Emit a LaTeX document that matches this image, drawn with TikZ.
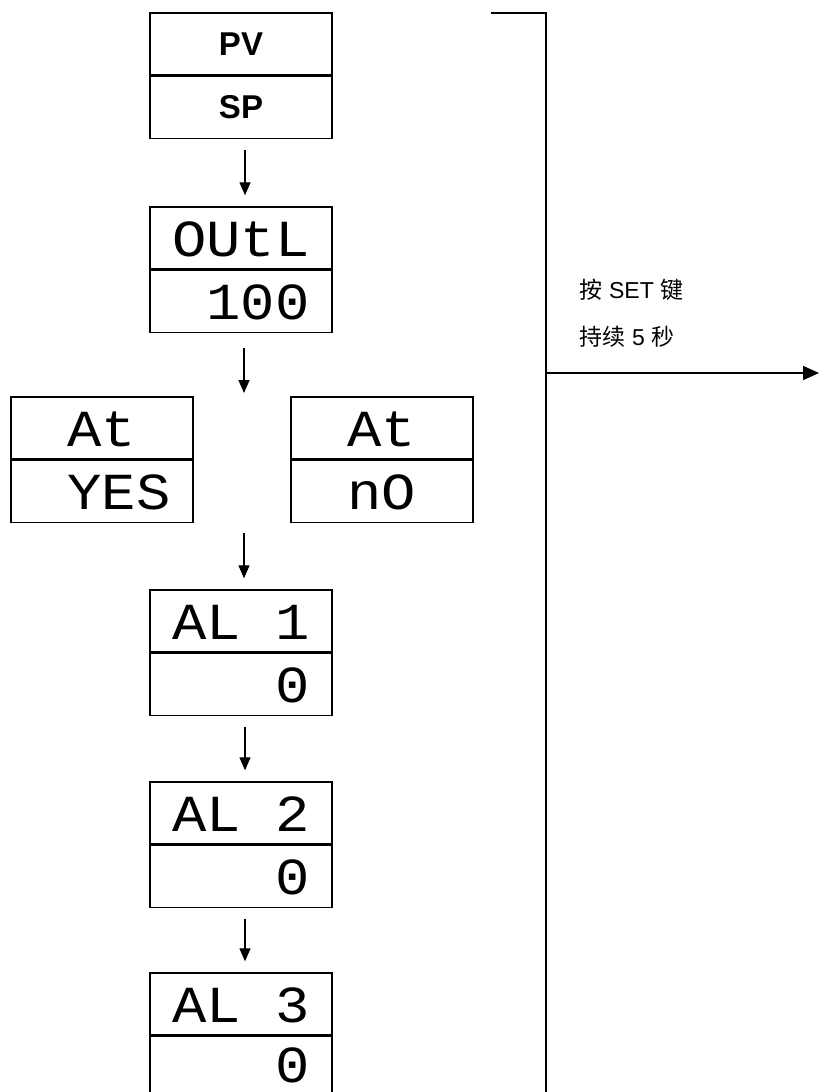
\documentclass[tikz,border=0pt]{standalone}
\usepackage{fontspec}
\setmainfont{Liberation Sans}
\newfontfamily\segfont[FakeStretch=1.1]{Liberation Mono}
\newfontfamily\cjkfont{Noto Sans CJK SC}
\usetikzlibrary{arrows.meta,positioning}
\newcommand\segsp{\phantom{0}}

\begin{document}
\begin{tikzpicture}[x=1pt,y=-1pt,line width=1.4pt,
    >={Triangle[length=13pt,width=11pt]},
    cell/.style={draw,minimum width=182pt,minimum height=62pt,inner sep=0pt,text depth=0pt},
    seg/.style={cell,font=\segfont\fontsize{52}{56}\selectfont,text height=36pt},
    pvsp/.style={cell,font=\bfseries\fontsize{33}{38}\selectfont,text height=23pt},
    flow/.style={->,line width=1.2pt,shorten <=11pt,shorten >=11pt},
    note/.style={anchor=base west,inner sep=0pt,font=\fontsize{23}{28}\selectfont}]
  \useasboundingbox (0,0) rectangle (819,1092);
  \node[pvsp] (pvT) at (241,44) {PV};
  \node[pvsp,below=0pt of pvT] (pvB) {SP};
  \node[seg] (outlT) at (241,238) {OUtL};
  \node[seg,below=0pt of outlT] (outlB) {\segsp100};
  \node[seg] (yesT) at (102,428) {\segsp At\segsp};
  \node[seg,below=0pt of yesT] (yesB) {\segsp YES};
  \node[seg] (noT) at (382,428) {\segsp At\segsp};
  \node[seg,below=0pt of noT] (noB) {\segsp nO\segsp};
  \coordinate (atin) at (244,397);
  \coordinate (atout) at (244,521);
  \node[seg] (al1T) at (241,621) {AL\segsp1};
  \node[seg,below=0pt of al1T] (al1B) {\segsp\segsp\segsp0};
  \node[seg] (al2T) at (241,813) {AL\segsp2};
  \node[seg,below=0pt of al2T] (al2B) {\segsp\segsp\segsp0};
  \node[seg] (al3T) at (241,1004) {AL\segsp3};
  \node[seg,text depth=6pt,below=0pt of al3T] (al3B) {\segsp\segsp\segsp0};
  \draw[flow] ([xshift=4pt]pvB.south) -- ([xshift=4pt]outlT.north);
  \draw[flow,shorten >=4pt,shorten <=15pt] ([xshift=3pt]outlB.south) -- (atin);
  \draw[flow,shorten <=12pt] (atout) -- ([xshift=3pt]al1T.north);
  \draw[flow] ([xshift=4pt]al1B.south) -- ([xshift=4pt]al2T.north);
  \draw[flow] ([xshift=4pt]al2B.south) -- ([xshift=4pt]al3T.north);
  \coordinate (brkL) at (491,13);
  \coordinate (brkC) at (546,13);
  \coordinate (brkB) at (546,1100);
  \coordinate (setin) at (546,373);
  \coordinate (setout) at (819,373);
  \draw[line width=2.2pt] (brkL) -- (brkC) -- (brkB);
  \draw[->,line width=1.8pt,>={Triangle[length=16pt,width=14pt]}] (setin) -- (setout);
  \node[note] (press) at (579,298) {{\cjkfont 按} SET {\cjkfont 键}};
  \node[note] (hold) at (579,345) {{\cjkfont 持续} 5 {\cjkfont 秒}};
\end{tikzpicture}
\end{document}
